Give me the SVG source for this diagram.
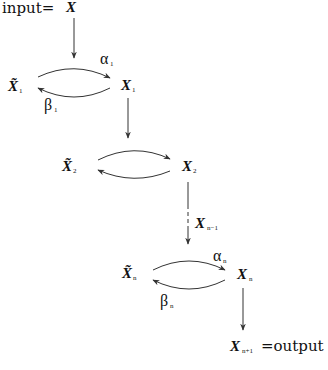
<svg xmlns="http://www.w3.org/2000/svg" width="328" height="370" viewBox="0 0 328 370">
<defs>
<marker id="ah" viewBox="0 0 10 10" refX="9" refY="5" markerWidth="7" markerHeight="7" markerUnits="userSpaceOnUse" orient="auto">
<path d="M0,1 L10,5 L0,9 L3,5 Z" fill="#333"/>
</marker>
<style>
text{font-family:"Liberation Serif","DejaVu Serif","Times New Roman",serif;fill:#111}
.v{font-weight:bold;font-style:italic;font-size:15px}
.s{font-size:7px}
.g{font-size:16px}
.t{font-family:"DejaVu Serif","Liberation Serif",serif;font-size:15px}
.c{fill:none;stroke:#333;stroke-width:1}
</style>
</defs>
<rect width="328" height="370" fill="#fff"/>
<g id="input">
<text class="t" x="2" y="13">input=</text>
<text class="v" x="66" y="12">X</text>
</g>
<g id="xt1"><text class="v" x="8" y="91">X̃</text><text class="s" x="19" y="93">1</text></g>
<g id="x1"><text class="v" x="121" y="90">X</text><text class="s" x="132" y="92">1</text></g>
<g id="xt2"><text class="v" x="62" y="171">X̃</text><text class="s" x="73" y="173">2</text></g>
<g id="x2"><text class="v" x="182" y="171">X</text><text class="s" x="193" y="173">2</text></g>
<g id="xnm1"><text class="v" x="195" y="228">X</text><text class="s" x="207" y="230">n−1</text></g>
<g id="xtn"><text class="v" x="122" y="278">X̃</text><text class="s" x="133" y="280">n</text></g>
<g id="xn"><text class="v" x="237" y="279">X</text><text class="s" x="249" y="281">n</text></g>
<g id="xnp1"><text class="v" x="230" y="351">X</text><text class="s" x="242" y="353">n+1</text><text class="t" x="261" y="351" font-size="17">=output</text></g>
<g id="labels">
<text class="g" x="100" y="64">α</text><text class="s" x="110" y="66">1</text>
<text class="g" x="44" y="110">β</text><text class="s" x="54" y="112">1</text>
<text class="g" x="213" y="261">α</text><text class="s" x="223" y="263">n</text>
<text class="g" x="160" y="306">β</text><text class="s" x="170" y="308">n</text>
</g>
<g id="connectors">
<path class="c" d="M74,18 V58" marker-end="url(#ah)"/>
<path class="c" d="M38,77 Q74,60 110,78" marker-end="url(#ah)"/>
<path class="c" d="M110,88 Q74,106 38,88" marker-end="url(#ah)"/>
<path class="c" d="M128,98 V138" marker-end="url(#ah)"/>
<path class="c" d="M98,160 Q134,142 170,159" marker-end="url(#ah)"/>
<path class="c" d="M170,171 Q134,186 98,170" marker-end="url(#ah)"/>
<path class="c" d="M188,182 V205"/>
<path class="c" d="M188,205 V228" stroke-dasharray="4,3"/>
<path class="c" d="M188,228 V244" marker-end="url(#ah)"/>
<path class="c" d="M153,270 Q189,252 225,270" marker-end="url(#ah)"/>
<path class="c" d="M225,280 Q189,298 153,280" marker-end="url(#ah)"/>
<path class="c" d="M243,288 V330" marker-end="url(#ah)"/>
</g>
</svg>
